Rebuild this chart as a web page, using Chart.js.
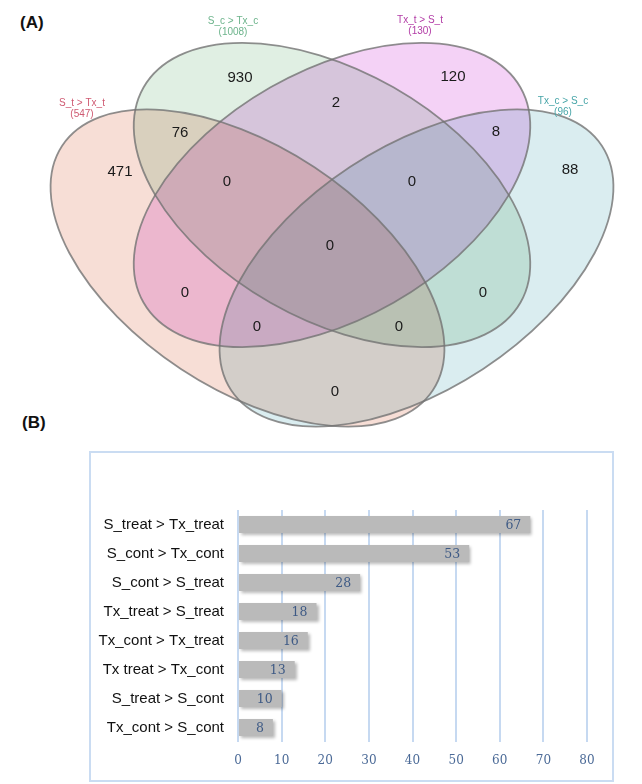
<!DOCTYPE html>
<html>
<head>
<meta charset="utf-8">
<script src="https://cdn.jsdelivr.net/npm/chart.js@4.4.1/dist/chart.umd.min.js"></script>
<style>
  body { margin: 0; background: #fff; width: 642px; height: 784px; position: relative; overflow: hidden; }
  .tag { position: absolute; font: bold 17px "Liberation Sans", Arial, sans-serif; color: #111; }
  #vennWrap { position: absolute; left: 0; top: 0; width: 642px; height: 440px; }
  #barBox { position: absolute; left: 89px; top: 451px; width: 521px; height: 327px; border: 2px solid #cadcf2; }
  #barWrap { position: absolute; left: 0; top: 440px; width: 642px; height: 344px; }
</style>
</head>
<body>
<div class="tag" style="left:20px; top:13px;">(A)</div>
<div class="tag" style="left:22px; top:413px;">(B)</div>
<div id="barBox"></div>
<div id="vennWrap"><canvas id="vennChart"></canvas></div>
<div id="barWrap"><canvas id="barChart"></canvas></div>
<script>
// ---- Venn (A) data ----
const setNames = ['S_t > Tx_t', 'S_c > Tx_c', 'Tx_t > S_t', 'Tx_c > S_c'];
const setTotals = [547, 1008, 130, 96];
const regionSets = ['A', 'B', 'C', 'D', 'AB', 'BC', 'CD', 'ABC', 'BCD', 'ABCD', 'AC', 'BD', 'ACD', 'ABD', 'AD'];
const regionCounts = [471, 930, 120, 88, 76, 2, 8, 0, 0, 0, 0, 0, 0, 0, 0];

// ---- Bar (B) data ----
const comparisons = [
   'S_treat > Tx_treat', 'S_cont > Tx_cont', 'S_cont > S_treat', 'Tx_treat > S_treat',
   'Tx_cont > Tx_treat', 'Tx treat > Tx_cont', 'S_treat > S_cont', 'Tx_cont > S_cont'
];
const geneCounts = [67, 53, 28, 18, 16, 13, 10, 8];
const xTicks = [0, 10, 20, 30, 40, 50, 60, 70, 80];

// layout of the venn (drawing space 642 x 440)
const ellipses = [
   { cx: 247.5, cy: 268, a: 222, b: 121, rot: 33.4, fill: 'rgb(247,222,214)', text: '#cf5a72', lx: 82, ly: 103 },
   { cx: 332, cy: 195, a: 217, b: 124, rot: 29.7, fill: 'rgb(224,239,227)', text: '#6db48c', lx: 233, ly: 21 },
   { cx: 332, cy: 195, a: 217, b: 124, rot: -29.7, fill: 'rgb(244,210,246)', text: '#b23ca6', lx: 420, ly: 20 },
   { cx: 416.5, cy: 268, a: 222, b: 121, rot: -33.4, fill: 'rgb(218,237,240)', text: '#47a5a8', lx: 563, ly: 101 }
];
const regionPos = {
   A: [120, 172], B: [240, 78], C: [453, 77], D: [570, 170],
   AB: [180, 133], BC: [336, 103], CD: [496, 132],
   ABC: [227, 182], BCD: [412, 182], ABCD: [330, 246],
   AC: [185, 293], BD: [483, 293], ACD: [257, 327], ABD: [399, 327], AD: [335, 392]
};

const vennPlugin = {
   id: 'vennShapes',
   beforeDatasetsDraw(chart) {
      const { ctx, scales: { x, y } } = chart;
      const sx = Math.abs(x.getPixelForValue(1) - x.getPixelForValue(0));
      const sy = Math.abs(y.getPixelForValue(1) - y.getPixelForValue(0));
      const path = e => {
         ctx.beginPath();
         ctx.ellipse(x.getPixelForValue(e.cx), y.getPixelForValue(e.cy), e.a * sx, e.b * sy, e.rot * Math.PI / 180, 0, Math.PI * 2);
      };
      ctx.save();
      ctx.globalCompositeOperation = 'multiply';
      ellipses.forEach(e => {
         path(e);
         ctx.fillStyle = e.fill;
         ctx.fill();
      });
      ctx.globalCompositeOperation = 'source-over';
      ctx.lineWidth = 1.8;
      ctx.strokeStyle = 'rgba(115,115,115,0.8)';
      ellipses.forEach(e => {
         path(e);
         ctx.stroke();
      });
      // set titles
      ctx.textAlign = 'center';
      ctx.textBaseline = 'middle';
      ctx.font = '10px "Liberation Sans", Arial, sans-serif';
      ellipses.forEach((e, i) => {
         ctx.fillStyle = e.text;
         ctx.fillText(setNames[i], x.getPixelForValue(e.lx), y.getPixelForValue(e.ly));
         ctx.fillText('(' + setTotals[i] + ')', x.getPixelForValue(e.lx), y.getPixelForValue(e.ly + 11));
      });
      ctx.restore();
   },
   afterDatasetsDraw(chart) {
      const { ctx } = chart;
      const meta = chart.getDatasetMeta(0);
      ctx.save();
      ctx.font = '15px "Liberation Sans", Arial, sans-serif';
      ctx.fillStyle = '#1a1a1a';
      ctx.textAlign = 'center';
      ctx.textBaseline = 'middle';
      meta.data.forEach((pt, i) => {
         ctx.fillText(String(regionCounts[i]), pt.x, pt.y);
      });
      ctx.restore();
   }
};

new Chart(document.getElementById('vennChart'), {
   type: 'scatter',
   data: {
      datasets: [{
         data: regionSets.map((s, i) => ({ x: regionPos[s][0], y: regionPos[s][1], v: regionCounts[i] })),
         pointRadius: 0,
      }],
   },
   options: {
      responsive: true,
      maintainAspectRatio: false,
      animation: false,
      layout: { padding: 0 },
      plugins: { legend: { display: false }, tooltip: { enabled: false } },
      scales: {
         x: { display: false, min: 0, max: 642 },
         y: { display: false, min: 0, max: 440, reverse: true },
      },
   },
   plugins: [vennPlugin],
});

const barShadow = {
   id: 'barShadow',
   beforeDatasetsDraw(chart) {
      const ctx = chart.ctx;
      ctx.save();
      ctx.shadowColor = 'rgba(0,0,0,0.28)';
      ctx.shadowBlur = 3;
      ctx.shadowOffsetX = 2;
      ctx.shadowOffsetY = 2;
   },
   afterDatasetsDraw(chart) {
      const ctx = chart.ctx;
      ctx.restore();
      const meta = chart.getDatasetMeta(0);
      ctx.save();
      ctx.font = '12.5px "DejaVu Serif", serif';
      ctx.fillStyle = '#3e5a85';
      ctx.textAlign = 'right';
      ctx.textBaseline = 'middle';
      meta.data.forEach((bar, i) => {
         ctx.fillText(String(geneCounts[i]), bar.x - 9, bar.y + 1);
      });
      ctx.restore();
   }
};

new Chart(document.getElementById('barChart'), {
   type: 'bar',
   data: {
      labels: comparisons,
      datasets: [{
         data: geneCounts,
         backgroundColor: '#bababa',
         borderWidth: 0,
         categoryPercentage: 1,
         barPercentage: 0.58,
      }],
   },
   options: {
      indexAxis: 'y',
      responsive: true,
      maintainAspectRatio: false,
      animation: false,
      layout: { padding: { top: 70, right: 55, bottom: 14, left: 0 } },
      plugins: { legend: { display: false }, tooltip: { enabled: false } },
      scales: {
         x: {
            min: xTicks[0],
            max: xTicks[xTicks.length - 1],
            afterBuildTicks: s => { s.ticks = xTicks.map(v => ({ value: v })); },
            grid: { color: '#c6d9f1', lineWidth: 2, drawTicks: false },
            border: { display: false },
            ticks: { color: '#4b6a97', padding: 12, font: { family: '"DejaVu Serif", serif', size: 12 } },
            afterFit: s => { s.height = 28; },
         },
         y: {
            grid: { display: false, drawTicks: false },
            border: { display: false },
            ticks: { color: '#111', padding: 14, font: { family: '"Liberation Sans", Arial, sans-serif', size: 15 } },
            afterFit: s => { s.width = 238; },
         },
      },
   },
   plugins: [barShadow],
});
</script>
</body>
</html>
